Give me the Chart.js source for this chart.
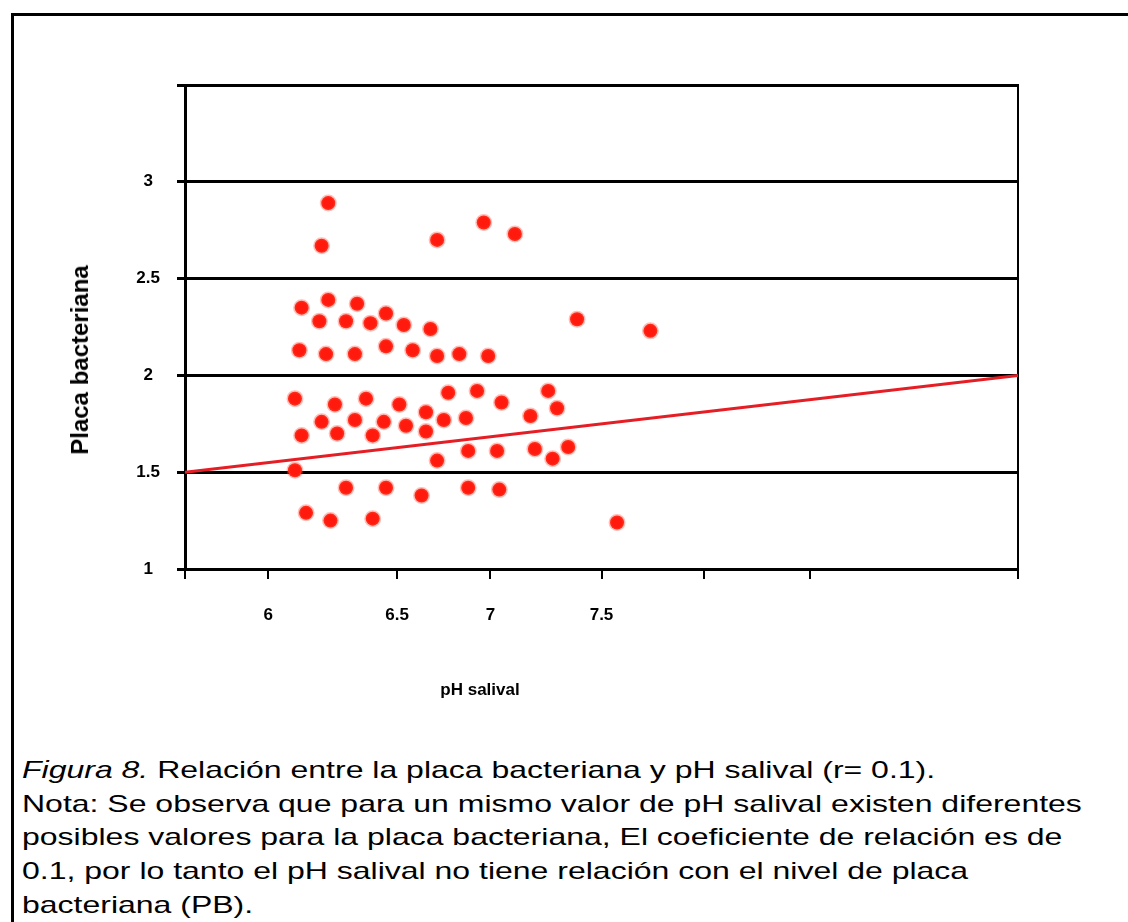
<!DOCTYPE html>
<html>
<head>
<meta charset="utf-8">
<script src="https://cdn.jsdelivr.net/npm/chart.js@4.4.1/dist/chart.umd.min.js"></script>
<style>
  html, body { margin: 0; padding: 0; background: #fff; width: 1128px; height: 922px; overflow: hidden; }
  .frame {
    position: absolute; left: 11px; top: 13px; width: 1200px; height: 1000px;
    border-left: 3px solid #000; border-top: 3px solid #000;
  }
  .chart-wrap { position: absolute; left: 0; top: 0; width: 1128px; height: 720px; }
  .y-title {
    position: absolute; left: 80px; top: 360px;
    transform: translate(-50%, -50%) rotate(-90deg);
    font: bold 24px 'Liberation Sans', Arial, sans-serif; white-space: nowrap; color: #000;
  }
  .x-title {
    position: absolute; left: 480px; top: 690px; transform: translate(-50%, -50%);
    font: bold 17px 'Liberation Sans', Arial, sans-serif; white-space: nowrap; color: #000;
  }
  /* the caption in the original is stretched sideways */
  .caption {
    position: absolute; left: 22px; top: 753px;
    transform: scaleX(1.333); transform-origin: 0 0;
    font: 24px 'Liberation Sans', Arial, sans-serif; line-height: 33.7px; color: #000; white-space: nowrap;
  }
</style>
</head>
<body>
<div class="frame"></div>
<div class="chart-wrap"><canvas id="chart" width="1128" height="720"></canvas></div>
<div class="y-title">Placa bacteriana</div>
<div class="x-title">pH salival</div>
<div class="caption">
  <div><i>Figura 8.</i> Relación entre la placa bacteriana y pH salival (r= 0.1).</div>
  <div>Nota: Se observa que para un mismo valor de pH salival existen diferentes</div>
  <div>posibles valores para la placa bacteriana, El coeficiente de relación es de</div>
  <div>0.1, por lo tanto el pH salival no tiene relación con el nivel de placa</div>
  <div>bacteriana (PB).</div>
</div>
<script>
// ─── Data ─────────────────────────────────────────────────────────────────────
const phSalival = [
  6.27, 6.24, 6.76, 6.97, 7.11,
  6.15, 6.27, 6.40, 6.23, 6.35, 6.46, 6.53, 6.61, 6.73,
  6.14, 6.26, 6.39, 6.53, 6.65, 6.76, 6.86, 6.99,
  7.39, 7.72,
  6.12, 6.30, 6.44, 6.59, 6.71, 6.81, 6.94, 7.05, 7.26, 7.30, 7.18,
  6.24, 6.39, 6.52, 6.62, 6.79, 6.89,
  6.15, 6.31, 6.47, 6.71, 6.90, 7.03, 7.20, 7.28, 6.76, 6.12, 7.35,
  6.35, 6.53, 6.69, 6.90, 7.04, 6.17, 6.28, 6.47, 7.57,
];
const placaBacteriana = [
  2.89, 2.67, 2.70, 2.79, 2.73,
  2.35, 2.39, 2.37, 2.28, 2.28, 2.27, 2.32, 2.26, 2.24,
  2.13, 2.11, 2.11, 2.15, 2.13, 2.10, 2.11, 2.10,
  2.29, 2.23,
  1.88, 1.85, 1.88, 1.85, 1.81, 1.91, 1.92, 1.86, 1.92, 1.83, 1.79,
  1.76, 1.77, 1.76, 1.74, 1.77, 1.78,
  1.69, 1.70, 1.69, 1.71, 1.61, 1.61, 1.62, 1.57, 1.56, 1.51, 1.63,
  1.42, 1.42, 1.38, 1.42, 1.41, 1.29, 1.25, 1.26, 1.24,
];

// regression line (r = 0.1)
const fitX = [5.625, 9.375];
const fitY = [1.5, 2.0];

// axis ticks as printed (the x axis of the original is unevenly spaced)
const xTicks = [5.625, 6, 6.58, 7, 7.5, 7.96, 8.44, 9.375];
const xTickLabels = ['', '6', '6.5', '7', '7.5', '', '', ''];
const yTicks = [1, 1.5, 2, 2.5, 3, 3.5];
const yTickLabels = ['1', '1.5', '2', '2.5', '3', ''];

// ─── Chart ────────────────────────────────────────────────────────────────────
const tickFont = { family: "'Liberation Sans', Arial, sans-serif", size: 17, weight: 'bold' };

new Chart(document.getElementById('chart'), {
  type: 'scatter',
  data: {
    datasets: [
      {
        label: 'Placa bacteriana',
        data: phSalival.map((x, i) => ({ x, y: placaBacteriana[i] })),
        backgroundColor: '#ff1a0d',
        borderColor: 'rgba(255,70,50,0.35)',
        borderWidth: 3,
        pointRadius: 7,
      },
      {
        label: 'Ajuste',
        data: fitX.map((x, i) => ({ x, y: fitY[i] })),
        showLine: true,
        borderColor: '#e51e25',
        borderWidth: 3,
        pointRadius: 0,
      },
    ],
  },
  options: {
    responsive: false,
    devicePixelRatio: 1,
    animation: false,
    layout: { padding: { left: 0, top: 85, right: 110, bottom: 0 } },
    plugins: { legend: { display: false }, tooltip: { enabled: false } },
    scales: {
      x: {
        type: 'linear',
        min: fitX[0],
        max: fitX[1],
        afterBuildTicks: s => { s.ticks = xTicks.map(v => ({ value: v })); },
        afterFit: s => { s.height = 151; },
        ticks: {
          autoSkip: false, maxRotation: 0, padding: 26, color: '#000', font: tickFont,
          callback: (v, i) => xTickLabels[i],
        },
        grid: { drawOnChartArea: false, drawTicks: true, tickLength: 10, color: '#000', lineWidth: 2 },
        border: { display: true, color: '#000', width: 3 },
      },
      y: {
        min: yTicks[0],
        max: yTicks[yTicks.length - 1],
        afterBuildTicks: s => { s.ticks = yTicks.map(v => ({ value: v })); },
        afterFit: s => { s.width = 185; },
        ticks: {
          crossAlign: 'center', padding: 17, color: '#000', font: tickFont,
          callback: (v, i) => yTickLabels[i],
        },
        grid: { color: '#000', lineWidth: 3, tickLength: 8 },
        border: { display: true, color: '#000', width: 3 },
      },
      y2: {
        position: 'right',
        display: true,
        afterFit: s => { s.width = 0; },
        ticks: { display: false },
        grid: { display: false },
        border: { display: true, color: '#000', width: 2 },
      },
    },
  },
});
</script>
</body>
</html>
